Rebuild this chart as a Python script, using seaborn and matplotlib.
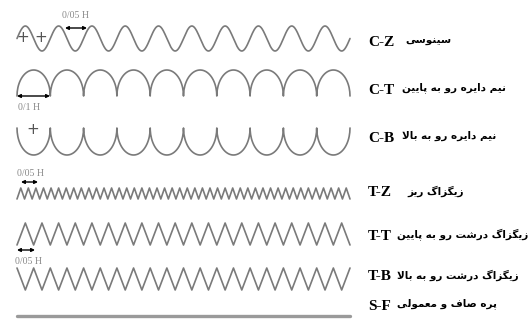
import matplotlib
matplotlib.use("Agg")
import matplotlib.pyplot as plt
import numpy as np
import pandas as pd
import seaborn as sns

# blade profile types: code, persian name, shape, number of repeats
codes = ["C-Z", "C-T", "C-B", "T-Z", "T-T", "T-B", "S-F"]
names_fa = [
    "سینوسی",
    "نیم دایره رو به پایین",
    "نیم دایره رو به بالا",
    "زیگزاگ ریز",
    "زیگزاگ درشت رو به پایین",
    "زیگزاگ درشت رو به بالا",
    "پره صاف و معمولی",
]
shapes = ["sine", "arch", "cup", "zigzag", "zigzag", "zigzag", "flat"]
repeats = [10, 10, 10, 44, 20, 20, 0]
starts_low = [False, False, False, True, True, False, False]

# dimension marks
dim_labels = ["0/05 H", "0/1 H", "0/05 H", "0/05 H"]

# layout (pixels)
X0, X1 = 17, 350
row_top = [26, 70, 128, 188, 223, 268, 316]
row_bot = [51, 96, 155, 199, 245, 290, 316]
label_y = [43, 90, 138, 193, 237, 277, 306]
fa_x = [405, 402, 402, 407, 397, 397, 397]
dim_pos = [(65, 87, 28, 62, 15), (17, 50, 96, 18, 108), (21, 38, 182, 17, 173), (17, 35, 250, 15, 261)]
plus_pos = [(23, 38), (41, 38), (33, 130)]

WAVE = "#7a7a7a"

# persian letter forms: isolated, final, initial, medial
FORMS = {
    "\u0627": ("\uFE8D", "\uFE8E", None, None),
    "\u0628": ("\uFE8F", "\uFE90", "\uFE91", "\uFE92"),
    "\u067E": ("\uFB56", "\uFB57", "\uFB58", "\uFB59"),
    "\u062A": ("\uFE95", "\uFE96", "\uFE97", "\uFE98"),
    "\u062F": ("\uFEA9", "\uFEAA", None, None),
    "\u0631": ("\uFEAD", "\uFEAE", None, None),
    "\u0632": ("\uFEAF", "\uFEB0", None, None),
    "\u0633": ("\uFEB1", "\uFEB2", "\uFEB3", "\uFEB4"),
    "\u0634": ("\uFEB5", "\uFEB6", "\uFEB7", "\uFEB8"),
    "\u0635": ("\uFEB9", "\uFEBA", "\uFEBB", "\uFEBC"),
    "\u0639": ("\uFEC9", "\uFECA", "\uFECB", "\uFECC"),
    "\u0641": ("\uFED1", "\uFED2", "\uFED3", "\uFED4"),
    "\u0644": ("\uFEDD", "\uFEDE", "\uFEDF", "\uFEE0"),
    "\u0645": ("\uFEE1", "\uFEE2", "\uFEE3", "\uFEE4"),
    "\u0646": ("\uFEE5", "\uFEE6", "\uFEE7", "\uFEE8"),
    "\u0647": ("\uFEE9", "\uFEEA", "\uFEEB", "\uFEEC"),
    "\u0648": ("\uFEED", "\uFEEE", None, None),
    "\u06CC": ("\uFBFC", "\uFBFD", "\uFBFE", "\uFBFF"),
    "\u06AF": ("\uFB92", "\uFB93", "\uFB94", "\uFB95"),
}
LAM_ALEF = ("\uFEFB", "\uFEFC")


def joins_left(c):
    return c in FORMS and FORMS[c][2] is not None


def shape_fa(text):
    # matplotlib has no arabic shaping, so pick the contextual forms by hand
    chars = list(text.replace("\u064A", "\u06CC").replace("\u0643", "\u06A9"))
    out, prev, i = [], None, 0
    while i < len(chars):
        c = chars[i]
        if c not in FORMS:
            out.append(c)
            prev = None
            i += 1
            continue
        link_prev = prev is not None and joins_left(prev)
        if c == "\u0644" and i + 1 < len(chars) and chars[i + 1] == "\u0627":
            out.append(LAM_ALEF[1] if link_prev else LAM_ALEF[0])
            prev = "\u0627"
            i += 2
            continue
        nxt = chars[i + 1] if i + 1 < len(chars) else None
        link_next = joins_left(c) and nxt in FORMS
        iso, fin, ini, med = FORMS[c]
        if link_prev and link_next:
            out.append(med)
        elif link_prev:
            out.append(fin)
        elif link_next:
            out.append(ini)
        else:
            out.append(iso)
        prev = c
        i += 1
    return "".join(reversed(out))


def profile(shape, n, top, bot, low_first):
    if shape == "flat":
        return np.array([X0, X1]), np.array([top, bot])
    if shape == "sine":
        t = np.linspace(0, 1, 800)
        return X0 + t * (X1 - X0), (top + bot) / 2 - (bot - top) / 2 * np.sin(2 * np.pi * n * t)
    if shape in ("arch", "cup"):
        w = (X1 - X0) / n
        th = np.linspace(np.pi, 0, 40)
        xs, ys = [], []
        for k in range(n):
            cx = X0 + (k + 0.5) * w
            xs.append(cx + w / 2 * np.cos(th))
            if shape == "arch":
                ys.append(bot - (bot - top) * np.sin(th))
            else:
                ys.append(top + (bot - top) * np.sin(th))
        return np.concatenate(xs), np.concatenate(ys)
    xs = np.linspace(X0, X1, 2 * n + 1)
    ys = np.where(np.arange(2 * n + 1) % 2 == 0, bot if low_first else top, top if low_first else bot)
    return xs, ys


sns.set_style("white")
fig = plt.figure(figsize=(5.32, 3.19), dpi=100)
ax = fig.add_axes([0, 0, 1, 1])

for i, code in enumerate(codes):
    xs, ys = profile(shapes[i], repeats[i], row_top[i], row_bot[i], starts_low[i])
    df = pd.DataFrame({"x": xs, "y": ys})
    sns.lineplot(data=df, x="x", y="y", ax=ax, sort=False, estimator=None,
                 color="#9a9a9a" if shapes[i] == "flat" else WAVE,
                 linewidth=2.4 if shapes[i] == "flat" else 1.2)
    ax.text(368, label_y[i], code, fontsize=11, fontweight="bold",
            family="Liberation Serif", ha="left", va="center", color="black")
    ax.text(fa_x[i], label_y[i] - 2, shape_fa(names_fa[i]), fontsize=7.5, fontweight="bold",
            family="DejaVu Sans", ha="left", va="center", color="black")

for lab, (xa, xb, ya, xt, yt) in zip(dim_labels, dim_pos):
    ax.annotate("", xy=(xb, ya), xytext=(xa, ya),
                arrowprops=dict(arrowstyle="<|-|>", color="black", lw=1.0,
                                mutation_scale=5, shrinkA=0, shrinkB=0))
    ax.text(xt, yt, lab, fontsize=7, family="Liberation Serif", color="#888888",
            ha="left", va="center")

for px, py in plus_pos:
    ax.text(px, py, "+", fontsize=11, color="#555555", ha="center", va="center",
            family="DejaVu Sans")

ax.set_xlim(0, 532)
ax.set_ylim(319, 0)
ax.axis("off")
fig.savefig("out.png", dpi=100)
